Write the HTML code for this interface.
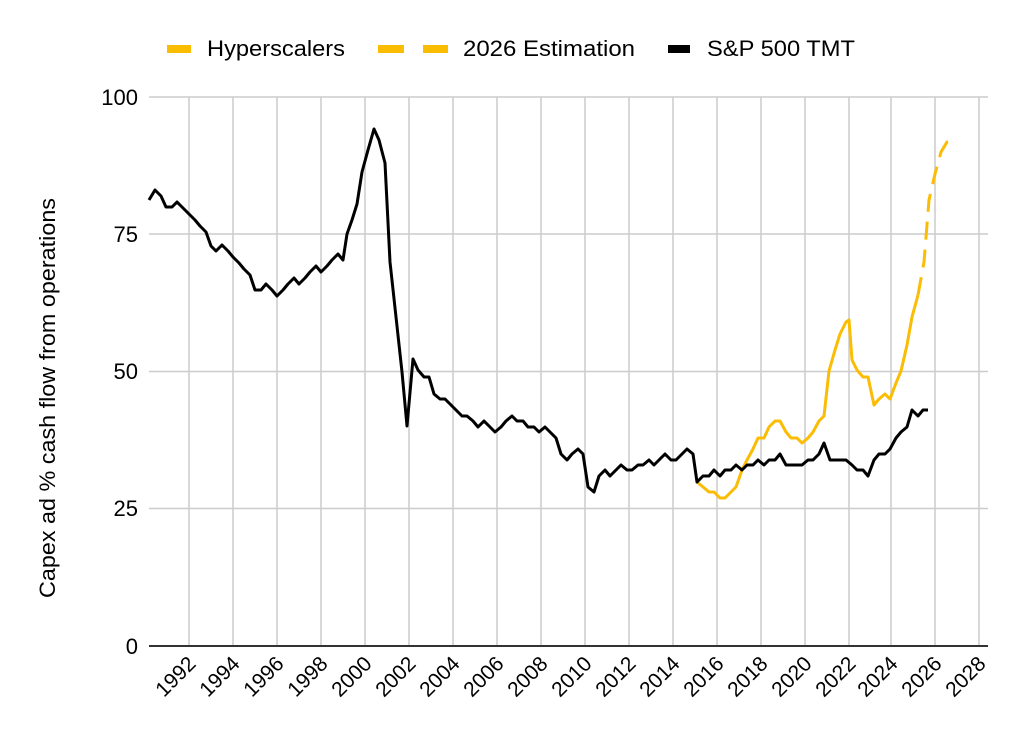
<!DOCTYPE html>
<html><head><meta charset="utf-8"><style>
html,body{margin:0;padding:0;background:#fff;}
svg{display:block;font-family:"Liberation Sans",Arial,sans-serif;}
</style></head><body>
<svg width="1026" height="742" viewBox="0 0 1026 742" xmlns="http://www.w3.org/2000/svg">
<g stroke="#cccccc" stroke-width="1.5">
<line x1="149" y1="97" x2="988" y2="97"/>
<line x1="149" y1="234" x2="988" y2="234"/>
<line x1="149" y1="371.5" x2="988" y2="371.5"/>
<line x1="149" y1="508.5" x2="988" y2="508.5"/>
<line x1="189" y1="97" x2="189" y2="646"/><line x1="233" y1="97" x2="233" y2="646"/><line x1="277" y1="97" x2="277" y2="646"/><line x1="321" y1="97" x2="321" y2="646"/><line x1="365" y1="97" x2="365" y2="646"/><line x1="409" y1="97" x2="409" y2="646"/><line x1="453" y1="97" x2="453" y2="646"/><line x1="497" y1="97" x2="497" y2="646"/><line x1="541" y1="97" x2="541" y2="646"/><line x1="585" y1="97" x2="585" y2="646"/><line x1="629" y1="97" x2="629" y2="646"/><line x1="673" y1="97" x2="673" y2="646"/><line x1="717" y1="97" x2="717" y2="646"/><line x1="761" y1="97" x2="761" y2="646"/><line x1="805" y1="97" x2="805" y2="646"/><line x1="849" y1="97" x2="849" y2="646"/><line x1="891" y1="97" x2="891" y2="646"/><line x1="935" y1="97" x2="935" y2="646"/><line x1="979" y1="97" x2="979" y2="646"/>
</g>
<line x1="149" y1="646" x2="988" y2="646" stroke="#333" stroke-width="2"/>
<g font-size="22" fill="#000" text-anchor="end">
<text x="138" y="105">100</text><text x="138" y="242">75</text><text x="138" y="379">50</text><text x="138" y="516">25</text><text x="138" y="654">0</text>
</g>
<text transform="translate(55,398) rotate(-90)" font-size="22" text-anchor="middle" textLength="400" lengthAdjust="spacingAndGlyphs">Capex ad % cash flow from operations</text>
<g font-size="21" fill="#000" text-anchor="end">
<text transform="translate(197,665) rotate(-45)">1992</text><text transform="translate(241,665) rotate(-45)">1994</text><text transform="translate(285,665) rotate(-45)">1996</text><text transform="translate(329,665) rotate(-45)">1998</text><text transform="translate(373,665) rotate(-45)">2000</text><text transform="translate(417,665) rotate(-45)">2002</text><text transform="translate(461,665) rotate(-45)">2004</text><text transform="translate(505,665) rotate(-45)">2006</text><text transform="translate(549,665) rotate(-45)">2008</text><text transform="translate(593,665) rotate(-45)">2010</text><text transform="translate(637,665) rotate(-45)">2012</text><text transform="translate(681,665) rotate(-45)">2014</text><text transform="translate(725,665) rotate(-45)">2016</text><text transform="translate(769,665) rotate(-45)">2018</text><text transform="translate(813,665) rotate(-45)">2020</text><text transform="translate(857,665) rotate(-45)">2022</text><text transform="translate(899,665) rotate(-45)">2024</text><text transform="translate(943,665) rotate(-45)">2026</text><text transform="translate(987,665) rotate(-45)">2028</text>
</g>
<polyline fill="none" stroke="#FBBC04" stroke-width="3" stroke-linejoin="round" points="697,482 703,487 709,492 714,492 720,498 725,498 731,492 736,487 742,470 747,460 753,449 758,438 764,438 769,427 775,421 780,421 786,432 791,438 797,438 802,443 808,438 813,432 819,421 824,416 829,371 835,350 840,334 846,322 849,320 852,360 857,370 863,377 868,377 874,405 879,399 885,394 890,399 896,383 901,371 907,345 912,317 918,295"/>
<polyline fill="none" stroke="#FBBC04" stroke-width="3" stroke-dasharray="18,10" points="918,295 924,262 929,200 935,174 941,152 947,142 952,140"/>
<polyline fill="none" stroke="#000" stroke-width="3" stroke-linejoin="round" points="149,200 155,190 161,196 166,207 172,207 177,202 183,208 189,214 195,220 200,226 206,232 211,246 216,251 222,245 228,251 233,257 239,263 244,269 250,275 255,290 261,290 266,284 272,290 277,296 283,290 288,284 294,278 299,284 305,278 310,272 316,266 321,272 327,266 332,260 338,254 343,260 347,234 352,220 357,204 362,172 368,150 374,129 379,140 385,163 390,262 396,317 402,372 407,426 413,359 418,370 424,377 429,377 434,394 440,399 445,399 451,405 456,410 462,416 467,416 473,421 478,427 484,421 490,427 495,432 501,427 506,421 512,416 517,421 523,421 528,427 534,427 539,432 545,427 550,432 556,438 561,454 567,460 572,454 578,449 583,454 588,487 594,492 599,476 605,470 610,476 616,470 621,465 627,470 632,470 638,465 643,465 649,460 654,465 660,459 665,454 671,460 676,460 682,454 687,449 693,454 697,482 703,476 709,476 714,470 720,476 725,470 731,470 736,465 742,470 747,465 753,465 758,460 764,465 769,460 775,460 780,454 786,465 791,465 797,465 802,465 808,460 813,460 819,454 824,443 830,460 835,460 841,460 846,460 852,465 857,470 863,470 868,476 874,460 879,454 885,454 890,449 896,438 901,432 907,427 912,410 918,416 923,410 928,410"/>
<rect x="167" y="45" width="24" height="8" fill="#FBBC04"/>
<text x="207" y="56" font-size="22" textLength="138" lengthAdjust="spacingAndGlyphs">Hyperscalers</text>
<rect x="378" y="45" width="26" height="8" fill="#FBBC04"/>
<rect x="423" y="45" width="25" height="8" fill="#FBBC04"/>
<text x="463" y="56" font-size="22" textLength="172" lengthAdjust="spacingAndGlyphs">2026 Estimation</text>
<rect x="668" y="45" width="22" height="8" fill="#000"/>
<text x="707" y="56" font-size="22" textLength="148" lengthAdjust="spacingAndGlyphs">S&amp;P 500 TMT</text>
</svg>
</body></html>
